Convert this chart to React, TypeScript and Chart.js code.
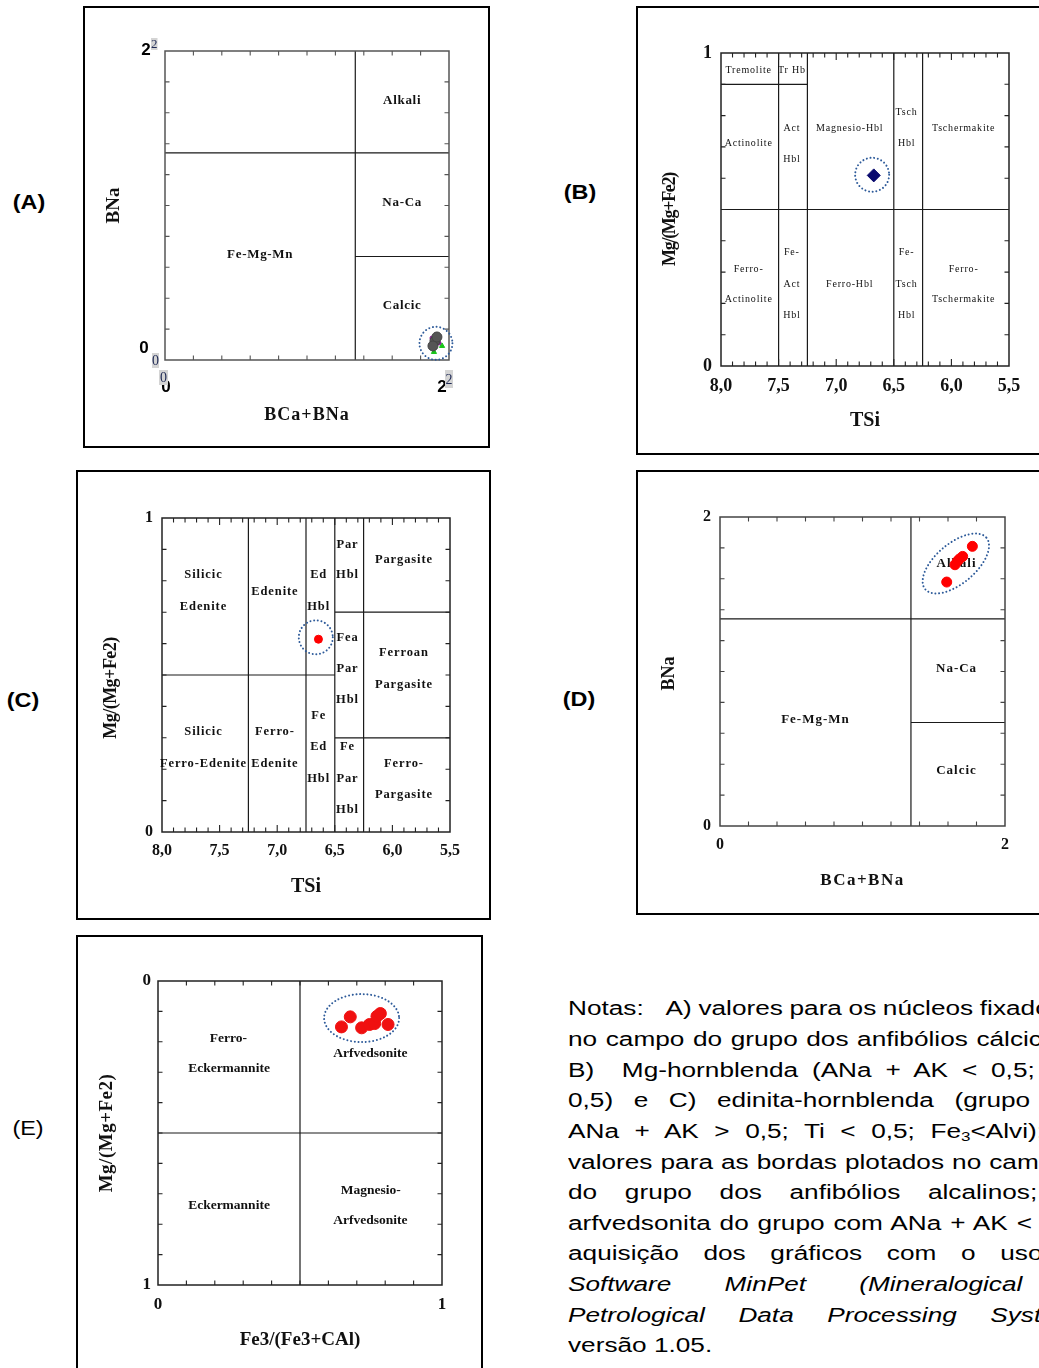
import React, { useEffect, useRef } from 'react';
import { Chart, registerables } from 'chart.js';

Chart.register(...registerables);

// ================= DATA =================
// (A) BCa+BNa x BNa – núcleos (grupo cálcico)
const A_GRAY_X = [1.901, 1.887, 1.915];
const A_GRAY_Y = [0.123, 0.091, 0.149];
const A_PURPLE_X = [1.88, 1.93];
const A_PURPLE_Y = [0.142, 0.11];
const A_GREEN_X = [1.894, 1.951];
const A_GREEN_Y = [0.052, 0.091];

// (B) TSi x Mg/(Mg+Fe2) – Mg-hornblenda
const B_TSI = [6.674];
const B_MG = [0.609];

// (C) TSi x Mg/(Mg+Fe2) – edenita-hornblenda
const C_TSI = [6.642];
const C_MG = [0.614];

// (D) BCa+BNa x BNa – bordas (grupo alcalino)
const D_BCA_BNA = [1.771, 1.703, 1.68, 1.665, 1.649, 1.591];
const D_BNA = [1.81, 1.745, 1.728, 1.713, 1.691, 1.579];

// (E) Fe3/(Fe3+CAl) x Mg/(Mg+Fe2) – arfvedsonita
const E_FE3 = [0.646, 0.677, 0.717, 0.745, 0.763, 0.771, 0.783, 0.81];
const E_MG = [0.151, 0.118, 0.154, 0.143, 0.14, 0.116, 0.107, 0.143];

// tick labels
const AD_TICKS = ['0', '2'];
const TSI_TICKS = ['8,0', '7,5', '7,0', '6,5', '6,0', '5,5'];
const UNIT_TICKS = ['0', '1'];

// field boundaries [x1, y1, x2, y2] (data units)
const AD_BOUNDS = [[1.34, 0, 1.34, 2], [0, 1.34, 2, 1.34], [1.34, 0.67, 2, 0.67]];
const B_BOUNDS = [[7.5, 0, 7.5, 1], [7.25, 0, 7.25, 1], [6.5, 0, 6.5, 1], [6.25, 0, 6.25, 1], [8, 0.5, 5.5, 0.5], [8, 0.9, 7.25, 0.9]];
const C_BOUNDS = [[7.25, 0, 7.25, 1], [6.75, 0, 6.75, 1], [6.5, 0, 6.5, 1], [6.25, 0, 6.25, 1], [8, 0.5, 6.5, 0.5], [6.5, 0.7, 5.5, 0.7], [6.5, 0.3, 5.5, 0.3]];
const E_BOUNDS = [[0.5, 0, 0.5, 1], [0, 0.5, 1, 0.5]];

// field names [text, x, y]
const A_FIELDS: [string, number, number][] = [['Alkali', 1.67, 1.68], ['Na-Ca', 1.67, 1.02], ['Calcic', 1.67, 0.35], ['Fe-Mg-Mn', 0.67, 0.68]];
const D_FIELDS: [string, number, number][] = [['Alkali', 1.66, 1.7], ['Na-Ca', 1.66, 1.02], ['Calcic', 1.66, 0.36], ['Fe-Mg-Mn', 0.67, 0.69]];
const B_FIELDS: [string, number, number][] = [
  ['Tremolite', 7.76, 0.945], ['Tr Hb', 7.385, 0.945],
  ['Actinolite', 7.76, 0.71], ['Act', 7.385, 0.76], ['Hbl', 7.385, 0.66],
  ['Magnesio-Hbl', 6.883, 0.76], ['Tsch', 6.389, 0.81], ['Hbl', 6.389, 0.71],
  ['Tschermakite', 5.894, 0.76],
  ['Ferro-', 7.76, 0.31], ['Actinolite', 7.76, 0.213],
  ['Fe-', 7.385, 0.362], ['Act', 7.385, 0.261], ['Hbl', 7.385, 0.163],
  ['Ferro-Hbl', 6.883, 0.261],
  ['Fe-', 6.389, 0.362], ['Tsch', 6.389, 0.261], ['Hbl', 6.389, 0.163],
  ['Ferro-', 5.894, 0.31], ['Tschermakite', 5.894, 0.213],
];
const C_FIELDS: [string, number, number][] = [
  ['Silicic', 7.64, 0.82], ['Edenite', 7.64, 0.716],
  ['Edenite', 7.02, 0.766],
  ['Ed', 6.64, 0.82], ['Hbl', 6.64, 0.716],
  ['Par', 6.39, 0.916], ['Hbl', 6.39, 0.82],
  ['Pargasite', 5.9, 0.866],
  ['Fea', 6.39, 0.62], ['Par', 6.39, 0.52], ['Hbl', 6.39, 0.42],
  ['Ferroan', 5.9, 0.57], ['Pargasite', 5.9, 0.47],
  ['Silicic', 7.64, 0.32], ['Ferro-Edenite', 7.64, 0.218],
  ['Ferro-', 7.02, 0.318], ['Edenite', 7.02, 0.218],
  ['Fe', 6.64, 0.37], ['Ed', 6.64, 0.27], ['Hbl', 6.64, 0.168],
  ['Fe', 6.39, 0.27], ['Par', 6.39, 0.17], ['Hbl', 6.39, 0.07],
  ['Ferro-', 5.9, 0.218], ['Pargasite', 5.9, 0.12],
];
const E_FIELDS: [string, number, number][] = [
  ['Ferro-', 0.248, 0.19], ['Eckermannite', 0.25, 0.288],
  ['Arfvedsonite', 0.748, 0.239],
  ['Eckermannite', 0.25, 0.74],
  ['Magnesio-', 0.749, 0.689], ['Arfvedsonite', 0.748, 0.789],
];

const NOTE_LINES: any[] = [
  { lead: 'Notas:', gap: 17.8, t: 'A) valores para os núcleos fixados', ws: -0.5 },
  { t: 'no campo do grupo dos anfibólios cálcicos;', ws: 1 },
  { t: 'B)  Mg-hornblenda (ANa + AK < 0,5; Ti <', ws: 5 },
  { t: '0,5) e C) edinita-hornblenda (grupo com', ws: 10.1 },
  { t: 'ANa + AK > 0,5; Ti < 0,5; Fe', sub: '3', tail: '<Alvi); D)', ws: 6.3 },
  { t: 'valores para as bordas plotados no campo', ws: 0.6 },
  { t: 'do grupo dos anfibólios alcalinos; E)', ws: 15.6 },
  { t: 'arfvedsonita do grupo com ANa + AK < 0,5.', ws: 1.2 },
  { t: 'aquisição dos gráficos com o uso do', ws: 13.3 },
  { t: 'Software MinPet (Mineralogical and', ws: 35, italic: true },
  { t: 'Petrological Data Processing System),', ws: 20, italic: true },
  { t: 'versão 1.05.', ws: 0 },
];

const SERIF = '"Liberation Serif", "Times New Roman", serif';
const SANS = '"Liberation Sans", Arial, sans-serif';

const pts = (xs: number[], ys: number[]) => xs.map((x, i) => ({ x, y: ys[i] }));

function diagramPlugin(s: any) {
  return {
    id: 'diagram',
    beforeDatasetsDraw(chart: any) {
      const { ctx, chartArea: a } = chart;
      const xs = chart.scales.x, ys = chart.scales.y;
      const px = (v: number) => xs.getPixelForValue(v);
      const py = (v: number) => ys.getPixelForValue(v);
      ctx.save();
      ctx.fillStyle = '#fff';
      ctx.fillRect(0, 0, chart.width, chart.height);
      // panel frame
      ctx.strokeStyle = '#000';
      ctx.lineWidth = 2;
      ctx.strokeRect(1, 1, chart.width - 2, chart.height - 2);
      // field boundaries
      ctx.strokeStyle = '#1a1a1a';
      ctx.lineWidth = 1.2;
      ctx.beginPath();
      for (const [x1, y1, x2, y2] of s.bounds) {
        ctx.moveTo(px(x1), py(y1));
        ctx.lineTo(px(x2), py(y2));
      }
      ctx.stroke();
      // plot frame
      ctx.strokeStyle = s.axisColor || '#333';
      ctx.lineWidth = 1.5;
      ctx.strokeRect(a.left, a.top, a.right - a.left, a.bottom - a.top);
      // inward ticks
      ctx.lineWidth = 1.1;
      ctx.beginPath();
      const nx = Math.round((s.xMax - s.xMin) / s.xStep);
      for (let i = 1; i < nx; i++) {
        const X = px(s.xMin + i * s.xStep);
        const L = s.xMajor && i % s.xMajor === 0 ? 7 : 4.5;
        ctx.moveTo(X, a.bottom); ctx.lineTo(X, a.bottom - L);
        ctx.moveTo(X, a.top); ctx.lineTo(X, a.top + L);
      }
      const ny = Math.round((s.yMax - s.yMin) / s.yStep);
      for (let i = 1; i < ny; i++) {
        const Y = py(s.yMin + i * s.yStep);
        ctx.moveTo(a.left, Y); ctx.lineTo(a.left + 4.5, Y);
        ctx.moveTo(a.right, Y); ctx.lineTo(a.right - 4.5, Y);
      }
      ctx.stroke();
      // field names
      ctx.fillStyle = '#111';
      ctx.font = s.fieldFont;
      ctx.letterSpacing = s.fieldSpacing || '0px';
      ctx.textAlign = 'center';
      ctx.textBaseline = 'middle';
      for (const [t, fx, fy] of s.fields) ctx.fillText(t, px(fx), py(fy));
      ctx.letterSpacing = '0px';
      // tick labels
      if (s.ghost) {
        s.ghost(ctx, px, py, a);
      } else {
        ctx.font = s.tickFont;
        ctx.textAlign = 'center';
        for (const t of s.xLabels) ctx.fillText(t, px(parseFloat(t.replace(',', '.'))), a.bottom + s.xLabelDy);
        ctx.textAlign = 'right';
        for (const t of s.yLabels) ctx.fillText(t, a.left - s.yLabelDx, py(parseFloat(t)));
      }
      // axis titles
      ctx.fillStyle = '#111';
      ctx.textBaseline = 'middle';
      const cx = (a.left + a.right) / 2, cy = (a.top + a.bottom) / 2;
      ctx.textAlign = 'center';
      ctx.font = s.xTitleFont;
      ctx.letterSpacing = s.xTitleSpacing || '0px';
      ctx.fillText(s.xTitle, cx, a.bottom + 55);
      ctx.font = s.yTitleFont;
      ctx.letterSpacing = s.yTitleSpacing || '0px';
      ctx.translate(a.left - 51, cy + (s.yTitleDy || 0));
      ctx.rotate(-Math.PI / 2);
      ctx.fillText(s.yTitle, 0, 0);
      ctx.restore();
    },
    afterDatasetsDraw(chart: any) {
      const { ctx } = chart;
      const xs = chart.scales.x, ys = chart.scales.y;
      ctx.save();
      ctx.strokeStyle = '#2e5b9a';
      ctx.lineWidth = 2;
      ctx.lineCap = 'round';
      ctx.setLineDash([0.01, 3.7]);
      for (const r of s.rings) {
        ctx.beginPath();
        ctx.ellipse(xs.getPixelForValue(r.x), ys.getPixelForValue(r.y), r.rx, r.ry, r.rot || 0, 0, Math.PI * 2);
        ctx.stroke();
      }
      ctx.restore();
    },
  };
}

function makeConfig(s: any) {
  return {
    type: 'scatter',
    data: { datasets: s.datasets },
    options: {
      responsive: false,
      animation: false,
      devicePixelRatio: 1,
      layout: { padding: s.pad },
      plugins: { legend: { display: false }, tooltip: { enabled: false } },
      events: [],
      scales: {
        x: { type: 'linear', display: false, min: s.xMin, max: s.xMax, reverse: !!s.xReverse },
        y: { type: 'linear', display: false, min: s.yMin, max: s.yMax, reverse: !!s.yReverse },
      },
    },
    plugins: [diagramPlugin(s)],
  } as any;
}

function ghostDigit(ctx: any, t: string, x: number, y: number, w: number, h: number, size: number) {
  ctx.fillStyle = '#d4d4d4';
  ctx.fillRect(x, y, w, h);
  ctx.fillStyle = '#1f2a55';
  ctx.font = `${size}px ${SERIF}`;
  ctx.textAlign = 'center';
  ctx.textBaseline = 'middle';
  ctx.fillText(t, x + w / 2, y + h / 2 + 1);
}

const specs: any = {
  A: {
    box: { x: 83, y: 6, w: 407, h: 442 },
    pad: { left: 82, top: 45, right: 41, bottom: 88 },
    xMin: 0, xMax: 2, yMin: 0, yMax: 2, xStep: 0.2, yStep: 0.2,
    axisColor: '#555',
    bounds: AD_BOUNDS, fields: A_FIELDS,
    fieldFont: `bold 13px ${SERIF}`, fieldSpacing: '0.7px',
    xTitle: 'BCa+BNa', xTitleFont: `bold 18px ${SERIF}`, xTitleSpacing: '1px',
    yTitle: 'BNa', yTitleFont: `bold 19px ${SERIF}`,
    ghost: (ctx: any, px: any, py: any, a: any) => {
      const lo = AD_TICKS[0], hi = AD_TICKS[1];
      const y2 = py(parseFloat(hi)), y0 = py(parseFloat(lo));
      const x0 = px(parseFloat(lo)), x2 = px(parseFloat(hi));
      ctx.textBaseline = 'middle';
      ctx.textAlign = 'center';
      ctx.fillStyle = '#000';
      ctx.font = `bold 17px ${SANS}`;
      ctx.fillText(hi, a.left - 19, y2 - 1);
      ctx.fillText(lo, a.left - 21, y0 - 12);
      ctx.fillText(lo, x0 + 1, a.bottom + 27);
      ctx.fillText(hi, x2 - 7, a.bottom + 27);
      ghostDigit(ctx, hi, a.left - 14, y2 - 13, 6.5, 12, 13);
      ghostDigit(ctx, lo, a.left - 13, y0 - 7, 7, 15, 14);
      ghostDigit(ctx, lo, x0 - 6, a.bottom + 10, 9, 15, 14);
      ghostDigit(ctx, hi, x2 - 4, a.bottom + 10, 8, 18, 14);
    },
    rings: [{ x: 1.908, y: 0.108, rx: 16.5, ry: 16.5 }],
    datasets: [
      { data: pts(A_GRAY_X, A_GRAY_Y), backgroundColor: '#555', borderColor: '#444', pointRadius: 5 },
      { data: pts(A_PURPLE_X, A_PURPLE_Y), backgroundColor: '#8a1f9a', borderColor: '#8a1f9a', pointRadius: 2 },
      { data: pts(A_GREEN_X, A_GREEN_Y), backgroundColor: '#19c419', borderColor: '#19c419', pointRadius: 3, pointStyle: 'triangle' },
    ],
  },
  B: {
    box: { x: 636, y: 6, w: 420, h: 449 },
    pad: { left: 85, top: 47, right: 47, bottom: 89 },
    xMin: 5.5, xMax: 8, xReverse: true, yMin: 0, yMax: 1, xStep: 0.1, xMajor: 5, yStep: 0.1,
    axisColor: '#222',
    bounds: B_BOUNDS, fields: B_FIELDS,
    fieldFont: `10px ${SERIF}`, fieldSpacing: '0.8px',
    tickFont: `bold 18px ${SERIF}`, xLabels: TSI_TICKS, yLabels: UNIT_TICKS, xLabelDy: 20, yLabelDx: 9,
    xTitle: 'TSi', xTitleFont: `bold 20px ${SERIF}`,
    yTitle: 'Mg/(Mg+Fe2)', yTitleFont: `bold 18px ${SERIF}`, yTitleSpacing: '-1.3px', yTitleDy: 10,
    rings: [{ x: 6.688, y: 0.611, rx: 17, ry: 17 }],
    datasets: [
      { data: pts(B_TSI, B_MG), backgroundColor: '#0a0a6e', borderColor: '#0a0a6e', pointRadius: 6.5, pointStyle: 'rectRot' },
    ],
  },
  C: {
    box: { x: 76, y: 470, w: 415, h: 450 },
    pad: { left: 86, top: 48, right: 41, bottom: 88 },
    xMin: 5.5, xMax: 8, xReverse: true, yMin: 0, yMax: 1, xStep: 0.1, xMajor: 5, yStep: 0.1,
    axisColor: '#222',
    bounds: C_BOUNDS, fields: C_FIELDS,
    fieldFont: `bold 12.5px ${SERIF}`, fieldSpacing: '0.9px',
    tickFont: `bold 16px ${SERIF}`, xLabels: TSI_TICKS, yLabels: UNIT_TICKS, xLabelDy: 19, yLabelDx: 9,
    xTitle: 'TSi', xTitleFont: `bold 20px ${SERIF}`,
    yTitle: 'Mg/(Mg+Fe2)', yTitleFont: `bold 18px ${SERIF}`, yTitleSpacing: '-0.5px', yTitleDy: 13,
    rings: [{ x: 6.665, y: 0.62, rx: 17, ry: 17 }],
    datasets: [
      { data: pts(C_TSI, C_MG), backgroundColor: '#ff0000', borderColor: '#ff0000', pointRadius: 4 },
    ],
  },
  D: {
    box: { x: 636, y: 470, w: 420, h: 445 },
    pad: { left: 84, top: 47, right: 51, bottom: 89 },
    xMin: 0, xMax: 2, yMin: 0, yMax: 2, xStep: 0.2, yStep: 0.2,
    axisColor: '#444',
    bounds: AD_BOUNDS, fields: D_FIELDS,
    fieldFont: `bold 13px ${SERIF}`, fieldSpacing: '1px',
    tickFont: `bold 16px ${SERIF}`, xLabels: AD_TICKS, yLabels: AD_TICKS, xLabelDy: 19, yLabelDx: 9,
    xTitle: 'BCa+BNa', xTitleFont: `bold 17px ${SERIF}`, xTitleSpacing: '1.5px',
    yTitle: 'BNa', yTitleFont: `bold 18px ${SERIF}`, yTitleDy: 2,
    rings: [{ x: 1.655, y: 1.699, rx: 40, ry: 20, rot: -0.7 }],
    datasets: [
      { data: pts(D_BCA_BNA, D_BNA), backgroundColor: '#ff0000', borderColor: '#ff0000', pointRadius: 5 },
    ],
  },
  E: {
    box: { x: 76, y: 935, w: 407, h: 445 },
    pad: { left: 82, top: 46, right: 41, bottom: 95 },
    xMin: 0, xMax: 1, yMin: 0, yMax: 1, yReverse: true, xStep: 0.1, yStep: 0.1,
    axisColor: '#222',
    bounds: E_BOUNDS, fields: E_FIELDS,
    fieldFont: `bold 13.5px ${SERIF}`,
    tickFont: `bold 17px ${SERIF}`, xLabels: UNIT_TICKS, yLabels: UNIT_TICKS, xLabelDy: 20, yLabelDx: 7,
    xTitle: 'Fe3/(Fe3+CAl)', xTitleFont: `bold 19px ${SERIF}`,
    yTitle: 'Mg/(Mg+Fe2)', yTitleFont: `bold 19px ${SERIF}`, yTitleSpacing: '0.5px',
    rings: [{ x: 0.717, y: 0.122, rx: 37.5, ry: 24 }],
    datasets: [
      { data: pts(E_FE3, E_MG), backgroundColor: '#f01010', borderColor: '#f01010', pointRadius: 6 },
    ],
  },
};

function Panel({ s }: { s: any }) {
  const ref = useRef<HTMLCanvasElement>(null);
  useEffect(() => {
    const chart = new Chart(ref.current as HTMLCanvasElement, makeConfig(s));
    return () => chart.destroy();
  }, []);
  const b = s.box;
  return (
    <canvas
      ref={ref}
      width={b.w}
      height={b.h}
      style={{ position: 'absolute', left: b.x, top: b.y, width: b.w, height: b.h }}
    />
  );
}

const PANEL_TAGS = [
  { t: '(A)', x: 29, y: 203, bold: true },
  { t: '(B)', x: 580, y: 193, bold: true },
  { t: '(C)', x: 23, y: 701, bold: true },
  { t: '(D)', x: 579, y: 700, bold: true },
  { t: '(E)', x: 28, y: 1129, bold: false },
];

export default function App() {
  return (
    <div style={{ position: 'fixed', left: 0, top: 0, width: 1039, height: 1368, overflow: 'hidden', background: '#fff' }}>
      {Object.keys(specs).map((k) => (
        <Panel key={k} s={specs[k]} />
      ))}
      {PANEL_TAGS.map((p) => (
        <div
          key={p.t}
          style={{
            position: 'absolute', left: p.x, top: p.y, transform: 'translate(-50%, -50%) scaleX(1.2)',
            fontFamily: SANS, fontSize: 19.5, fontWeight: p.bold ? 700 : 400, lineHeight: 1, whiteSpace: 'nowrap',
          }}
        >
          {p.t}
        </div>
      ))}
      <div
        style={{
          position: 'absolute', left: 568, top: 993.4, fontFamily: SANS, fontSize: 20, lineHeight: '30.64px',
          color: '#000', transform: 'scaleX(1.31)', transformOrigin: '0 0', width: 600,
        }}
      >
        {NOTE_LINES.map((l: any, i: number) => (
          <div key={i} style={{ whiteSpace: 'pre', wordSpacing: l.ws, fontStyle: l.italic ? 'italic' : 'normal', height: 30.64 }}>
            {l.lead ? <span style={{ marginRight: l.gap - 5.56 - l.ws }}>{l.lead}</span> : null}
            {l.lead ? ' ' : null}
            {l.t}
            {l.sub ? <span style={{ fontSize: 13, position: 'relative', top: 3 }}>{l.sub}</span> : null}
            {l.tail || null}
          </div>
        ))}
      </div>
    </div>
  );
}
